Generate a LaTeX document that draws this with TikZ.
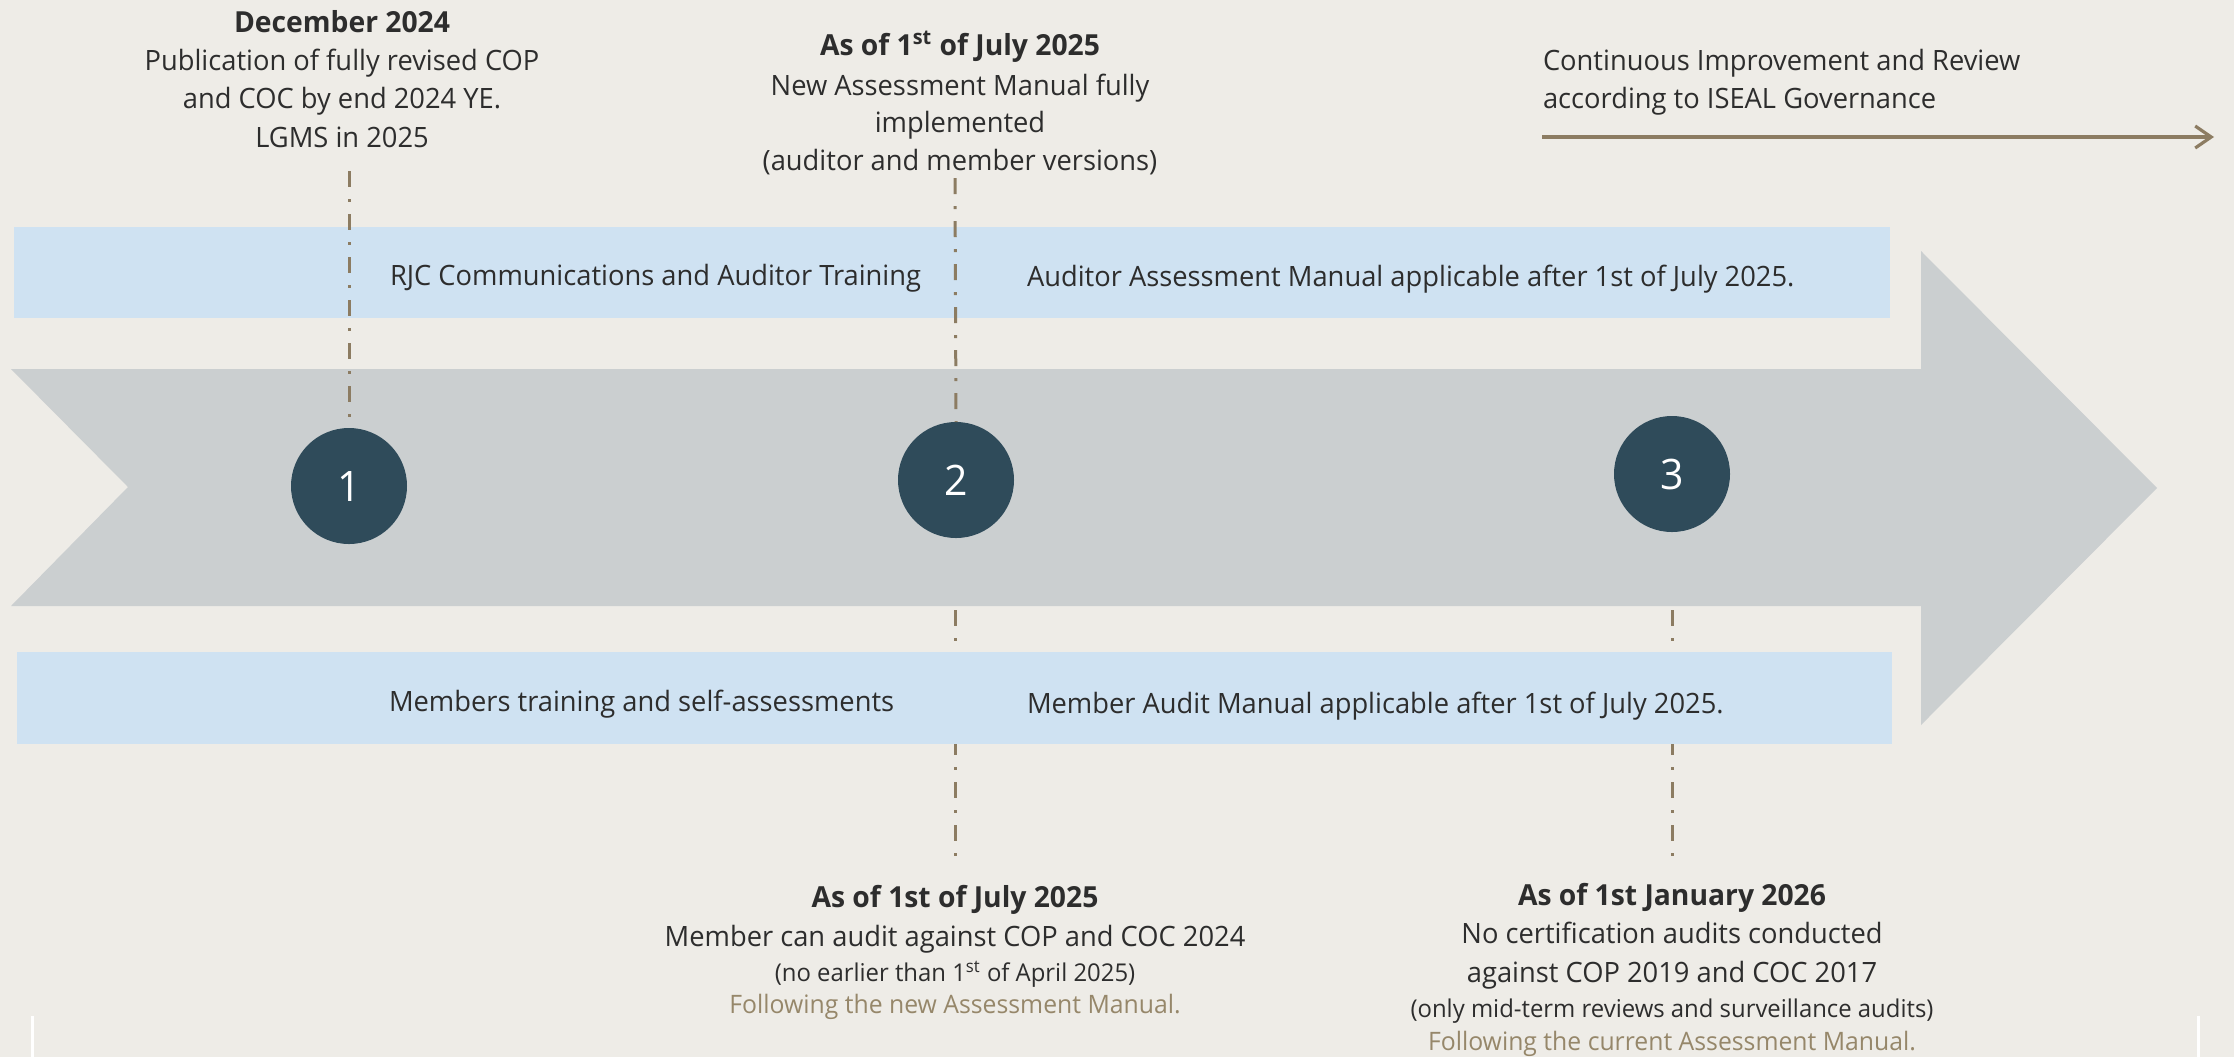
\documentclass[tikz,border=0pt]{standalone}
\usepackage{fontspec}
\setmainfont{Open Sans}[FakeStretch=0.975]
\usetikzlibrary{arrows.meta}
\definecolor{bgc}{RGB}{238,236,231}
\definecolor{bandc}{RGB}{207,226,242}
\definecolor{arrc}{RGB}{203,207,208}
\definecolor{circc}{RGB}{47,75,90}
\definecolor{brn}{RGB}{140,124,98}
\definecolor{txt}{RGB}{45,45,45}
\definecolor{tan}{RGB}{150,135,106}
\begin{document}
\begin{tikzpicture}[x=0.5pt,y=-0.5pt,
  every node/.style={inner sep=0pt,outer sep=0pt,text=txt},
  mainf/.style={font=\fontsize{14}{17}\selectfont},
  hdrf/.style={font=\fontsize{14.5}{17}\selectfont\bfseries},
  smallf/.style={font=\fontsize{12.25}{14}\selectfont},
  tanf/.style={font=\fontsize{12.7}{15}\selectfont,text=tan},
  band/.style={fill=bandc},
  leader/.style={draw=brn,line width=1.5pt,dash pattern=on 8pt off 6pt on 1.5pt off 6pt},
  stepcirc/.style={circle,fill=circc,minimum size=58pt,text=white,font=\fontsize{21}{24}\selectfont}
]
\useasboundingbox (0,0) rectangle (2234,1057);
\fill[bgc] (0,0) rectangle (2234,1057);
\fill[white] (31,1016) rectangle (34,1057);
\fill[white] (2197,1016) rectangle (2200,1057);

% lower leader lines (behind band and arrow)
\coordinate (d2a) at (955,610);
\coordinate (d2b) at (955,866);
\coordinate (d3a) at (1672,610);
\coordinate (d3b) at (1672,866);
\draw[leader] (d2a) -- (d2b);
\draw[leader] (d3a) -- (d3b);

% bands
\fill[band] (14,227) rectangle (1890,318);
\fill[band] (17,652) rectangle (1892,744);

% big arrow
\fill[arrc] (11,369) -- (1921,369) -- (1921,251) -- (2157,488) -- (1921,725) -- (1921,606) -- (11,606) -- (128,487) -- cycle;

% circles
\node[stepcirc] (c1) at (349,486) {1};
\node[stepcirc] (c2) at (956,480) {2};
\node[stepcirc] (c3) at (1672,474) {3};

% upper leader lines
\coordinate (u1) at (349,171);
\coordinate (u2) at (955,178);
\draw[leader] (u1) -- (c1.north);
\draw[leader] (u2) -- (c2.north);

% continuous improvement arrow
\coordinate (ca) at (1542,137);
\coordinate (cb) at (2214,137);
\draw[draw=brn,line width=1.6pt,-{Straight Barb[length=8pt,width=11pt]}] (ca) -- (cb);

% top-left label
\node[hdrf,anchor=base] (t1a) at (342,32) {December 2024};
\node[mainf,anchor=base] (t1b) at (342,70) {Publication of fully revised COP};
\node[mainf,anchor=base] (t1c) at (342,108) {and COC by end 2024 YE.};
\node[mainf,anchor=base] (t1d) at (342,147) {LGMS in 2025};

% top-middle label
\node[hdrf,anchor=base] (t2a) at (960,55) {As of 1\textsuperscript{st} of July 2025};
\node[mainf,anchor=base] (t2b) at (960,95) {New Assessment Manual fully};
\node[mainf,anchor=base] (t2c) at (960,132) {implemented};
\node[mainf,anchor=base] (t2d) at (960,170) {(auditor and member versions)};

% top-right label
\node[mainf,anchor=base west] (t3a) at (1543,70) {Continuous Improvement and Review};
\node[mainf,anchor=base west] (t3b) at (1543,108) {according to ISEAL Governance};

% band texts
\node[mainf,anchor=base west] (b1) at (390,285) {RJC Communications and Auditor Training};
\node[mainf,anchor=base west] (b2) at (1027,286) {Auditor Assessment Manual applicable after 1st of July 2025.};
\node[mainf,anchor=base west] (b3) at (389,711) {Members training and self-assessments};
\node[mainf,anchor=base west] (b4) at (1027,713) {Member Audit Manual applicable after 1st of July 2025.};

% bottom-middle label
\node[hdrf,anchor=base] (l2a) at (955,907) {As of 1st of July 2025};
\node[mainf,anchor=base] (l2b) at (955,946) {Member can audit against COP and COC 2024};
\node[smallf,anchor=base] (l2c) at (955,981) {(no earlier than 1\textsuperscript{st} of April 2025)};
\node[tanf,anchor=base] (l2d) at (955,1013) {Following the new Assessment Manual.};

% bottom-right label
\node[hdrf,anchor=base] (l3a) at (1672,905) {As of 1st January 2026};
\node[mainf,anchor=base] (l3b) at (1672,943) {No certification audits conducted};
\node[mainf,anchor=base] (l3c) at (1672,982) {against COP 2019 and COC 2017};
\node[smallf,anchor=base] (l3d) at (1672,1017) {(only mid-term reviews and surveillance audits)};
\node[tanf,anchor=base] (l3e) at (1672,1050) {Following the current Assessment Manual.};
\end{tikzpicture}
\end{document}
